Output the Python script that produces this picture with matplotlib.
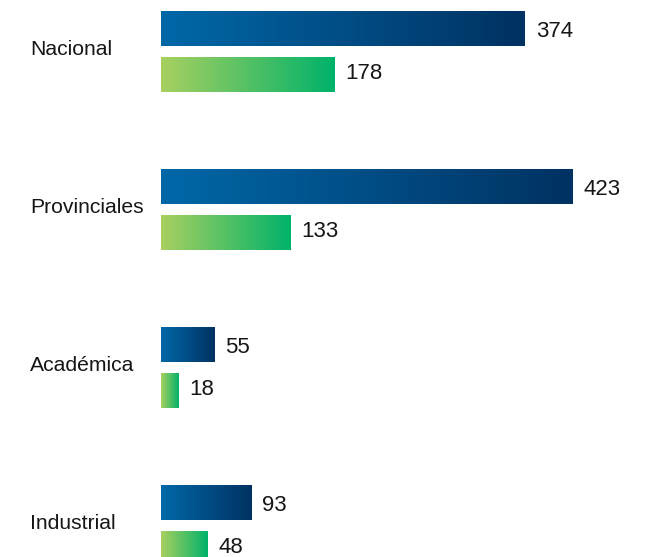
import matplotlib

matplotlib.use("Agg")
import matplotlib.pyplot as plt
import matplotlib.transforms as mtransforms
import numpy as np
from matplotlib.colors import LinearSegmentedColormap

categories = ["Nacional", "Provinciales", "Académica", "Industrial"]
blue_values = [374, 423, 55, 93]
green_values = [178, 133, 18, 48]

W, H = 665, 557
fig = plt.figure(figsize=(W / 100, H / 100), dpi=100)
# 1 data unit ~ 0.973 px, bars start at x=161 px
ax = fig.add_axes([161 / W, 0, 500 * 0.973 / W, 1])
ax.axis("off")

blue_cmap = LinearSegmentedColormap.from_list("b", ["#0068a8", "#003262"])
green_cmap = LinearSegmentedColormap.from_list("g", ["#a8d060", "#00b26a"])
grad = np.linspace(0, 1, 256).reshape(1, -1)

y = np.arange(len(categories))
off, h = 0.146, 0.218
font = ["Liberation Sans", "DejaVu Sans"]


def gradient_bars(ys, vals, cmap, dy):
    tr = mtransforms.offset_copy(ax.transData, fig=fig, x=0, y=dy, units="dots")
    bars = ax.barh(ys, vals, height=h, color="none", edgecolor="none")
    for b, v in zip(bars, vals):
        x0, y0 = b.get_x(), b.get_y()
        ax.imshow(grad, cmap=cmap, aspect="auto", interpolation="bicubic",
                  extent=(x0, x0 + b.get_width(), y0 + b.get_height(), y0),
                  zorder=2)
        ax.text(x0 + b.get_width() + 11 / 0.973, y0 + b.get_height() / 2, str(v),
                va="center", ha="left", fontsize=16, color="#161616",
                family=font, transform=tr)


gradient_bars(y - off, blue_values, blue_cmap, -3)
gradient_bars(y + off, green_values, green_cmap, 1)
ax.set_xlim(0, 500)
ax.set_ylim((H - 51.5) / 158, -51.5 / 158)

trans = mtransforms.blended_transform_factory(fig.transFigure, ax.transData)
trans = mtransforms.offset_copy(trans, fig=fig, x=0, y=2, units="dots")
for yi, c in zip(y, categories):
    ax.text(30 / W, yi, c, transform=trans, ha="left", va="center",
            fontsize=15.2, color="#161616", family=font)

fig.savefig("out.png", dpi=100)
